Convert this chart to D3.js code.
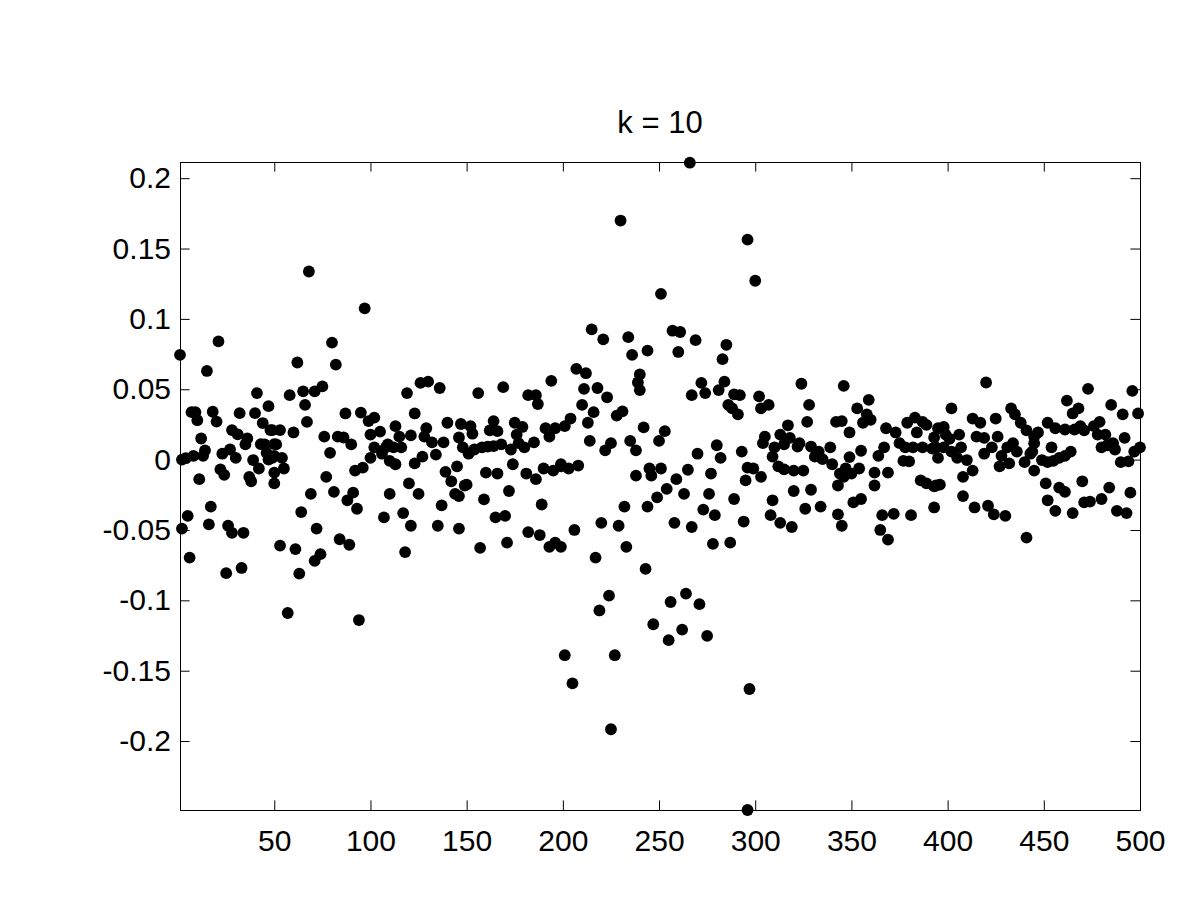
<!DOCTYPE html>
<html>
<head>
<meta charset="utf-8">
<script src="https://cdn.jsdelivr.net/npm/d3@7"></script>
<style>
  html, body { margin: 0; padding: 0; background: #fff; }
  svg { display: block; }
  text { font-family: "Liberation Sans", Arial, Helvetica, sans-serif; fill: #000; }
</style>
</head>
<body>
<svg id="chart" width="1200" height="900"></svg>
<script>
const titleText = "k = 10";
const xTicks = [50, 100, 150, 200, 250, 300, 350, 400, 450, 500];
const yTicks = [-0.2, -0.15, -0.1, -0.05, 0, 0.05, 0.1, 0.15, 0.2];
const yTickLabels = ["-0.2", "-0.15", "-0.1", "-0.05", "0", "0.05", "0.1", "0.15", "0.2"];
const xDomain = [1, 500];
const yDomain = [-0.249, 0.2115];

// index of each visible point
const xIndex = [
  21,1,15,41,47,7,9,10,18,20,32,40,44,48,28,31,36,43,50,12,4,2,14,8,13,23,27,30,35,45,46,49,
  39,42,22,24,37,38,50,11,17,5,2,16,26,28,34,6,25,33,
  68,97,80,62,82,75,71,65,58,66,67,87,95,99,100,49,53,60,51,76,83,86,90,79,47,50,54,55,50,77,92,96,100,
  69,81,91,88,93,64,72,84,89,53,61,74,71,63,57,94,
  126,130,136,119,123,102,105,113,115,121,109,116,129,128,132,138,140,147,146,148,134,127,123,102,106,108,112,110,113,
  120,110,125,139,142,144,146,137,149,117,121,107,135,146,118,
  194,169,156,182,186,187,152,153,164,162,166,175,179,176,177,180,185,191,193,196,151,154,158,161,164,168,173,174,145,
  160,166,181,186,190,195,199,150,172,159,189,165,170,182,188,193,196,157,171,
  230,215,221,234,244,236,207,212,240,239,240,211,218,223,210,216,213,228,231,204,201,242,214,225,222,235,238,199,203,208,
  238,245,246,232,244,220,229,206,199,233,217,243,224,219,247,201,227,205,225,
  266,296,251,257,261,269,260,285,283,272,267,274,284,281,289,292,286,288,291,253,250,280,282,270,293,251,265,259,277,295,
  254,249,263,276,273,279,289,258,267,294,278,287,256,264,271,255,262,275,297,296,
  300,324,346,302,303,307,328,327,342,345,317,313,318,323,305,304,310,315,309,312,315,322,329,333,335,339,331,320,325,296,
  299,303,320,329,340,344,347,309,308,326,334,313,319,343,345,
  359,353,358,356,360,368,373,375,349,379,383,387,389,384,393,395,378,382,387,392,394,367,364,355,349,377,380,395,354,350,
  346,343,362,362,369,386,389,393,394,351,355,366,372,381,393,365,369,
  420,402,433,435,413,417,425,398,426,438,441,445,399,401,406,398,402,405,407,410,413,408,415,419,419,423,428,431,434,436,
  427,432,440,443,396,408,414,421,424,430,441,
  473,496,462,465,468,485,491,499,452,479,469,447,445,444,456,461,466,471,476,478,482,483,486,487,492,480,454,497,500,449,
  452,455,458,461,464,445,451,490,494,458,461,470,484,495,452,456,465,471,474,480,488,493
];
// value of each visible point (same order)
const yValue = [
  0.084,0.0744,0.063,0.0473,0.038,0.0337,0.0337,0.028,0.034,0.027,0.033,0.033,0.026,0.021,0.021,0.018,0.015,0.011,0.011,0.015,0.001,0.0,0.0066,0.0027,0.0027,0.0042,0.0072,0.0012,0.0108,0.0108,0.0048,0.0012,
  -0.0003,-0.0063,-0.0069,-0.0108,-0.0123,-0.0154,-0.0093,-0.0139,-0.0334,-0.04,-0.049,-0.046,-0.047,-0.052,-0.052,-0.0696,-0.0807,-0.077,
  0.1337,0.1075,0.0831,0.069,0.0675,0.052,0.0485,0.0485,0.0458,0.0389,0.0268,0.0328,0.0334,0.0274,0.0178,0.021,0.021,0.0193,0.0108,0.0163,0.0163,0.0157,0.0108,0.0048,0.0,0.0027,0.0012,-0.0063,-0.0169,-0.0123,-0.0078,-0.0057,0.0012,
  -0.0244,-0.0229,-0.0235,-0.0289,-0.0349,-0.0373,-0.049,-0.0566,-0.0605,-0.0611,-0.0636,-0.0672,-0.072,-0.081,-0.109,-0.114,
  0.0545,0.0554,0.0509,0.0473,0.0328,0.0298,0.0199,0.0238,0.0163,0.0172,0.0108,0.0087,0.0223,0.0163,0.0123,0.0123,0.0262,0.0253,0.0157,0.0087,0.0036,0.0021,-0.0027,0.0087,0.0042,0.0087,0.0087,-0.0009,-0.0033,
  -0.0169,-0.0244,-0.0244,-0.0087,-0.0154,-0.0244,-0.0259,-0.0325,-0.0184,-0.038,-0.047,-0.041,-0.047,-0.049,-0.0657,
  0.056,0.0515,0.0473,0.0458,0.0458,0.0395,0.0238,0.0184,0.0274,0.0208,0.0202,0.0262,0.0232,0.0178,0.0117,0.0087,0.0123,0.0223,0.0163,0.0223,0.0042,0.0072,0.0087,0.0093,0.0096,0.0108,0.0072,-0.0033,-0.0048,
  -0.0093,-0.0099,-0.0099,-0.0139,-0.0063,-0.0078,-0.0048,-0.0178,-0.0223,-0.0283,-0.0319,-0.041,-0.04,-0.0515,-0.0536,-0.062,-0.059,-0.0627,-0.059,
  0.1699,0.0925,0.0855,0.087,0.0774,0.0744,0.0645,0.0614,0.0605,0.0548,0.0494,0.0503,0.0509,0.0443,0.0389,0.0337,0.0262,0.0313,0.0343,0.0292,0.0238,0.0229,0.0133,0.0117,0.0066,0.0133,0.0066,-0.0033,-0.0063,-0.0042,
  -0.0114,-0.0063,-0.0114,-0.0334,-0.0334,-0.0449,-0.047,-0.05,-0.062,-0.062,-0.0696,-0.0777,-0.0967,-0.1072,-0.117,-0.139,-0.139,-0.159,-0.1916,
  0.211,0.1563,0.1178,0.0916,0.0907,0.0849,0.0765,0.0816,0.0714,0.0545,0.0458,0.0473,0.0554,0.0494,0.0464,0.0458,0.0389,0.0364,0.0322,0.0202,0.0133,0.0102,0.0012,0.0042,0.0057,-0.0063,-0.0072,-0.0139,-0.0099,-0.0148,
  -0.0208,-0.0268,-0.0244,-0.0244,-0.0355,-0.0395,-0.028,-0.0449,-0.0479,-0.044,-0.0599,-0.059,-0.1012,-0.0952,-0.1027,-0.1283,-0.1208,-0.1253,-0.163,-0.249,
  0.1271,0.0539,0.0524,0.0449,0.0364,0.0389,0.0389,0.0268,0.0268,0.0274,0.0244,0.0178,0.0154,0.0117,0.0163,0.0117,0.0087,0.0108,0.0021,-0.0048,-0.0069,0.0093,0.0093,0.0057,0.0003,0.0087,0.0021,-0.0078,-0.0078,-0.0057,
  -0.0063,-0.0123,-0.0223,-0.0214,-0.0033,-0.0099,-0.0063,-0.0289,-0.0395,-0.0349,-0.0334,-0.0449,-0.0479,-0.0389,-0.047,
  0.0425,0.0364,0.0322,0.0262,0.0283,0.0223,0.0193,0.0117,0.0193,0.0262,0.0298,0.0268,0.0247,0.0193,0.0157,0.0223,0.0087,0.0087,0.0087,0.0078,0.0087,0.0087,0.0027,0.0063,0.0018,-0.0009,-0.0012,0.0012,-0.0063,-0.0099,
  -0.0123,-0.0184,-0.0093,-0.0184,-0.0093,-0.0148,-0.0169,-0.019,-0.0184,-0.0304,-0.028,-0.0395,-0.0386,-0.0395,-0.034,-0.05,-0.0569,
  0.0548,0.0364,0.0364,0.0322,0.0292,0.0262,0.0292,0.0232,0.0163,0.0262,0.0208,0.0163,0.0178,0.0148,0.0178,0.0087,0.0057,0.0012,0.0087,-0.0003,-0.0078,-0.0123,0.0163,0.0154,0.0042,0.0087,0.0027,0.0087,0.0117,0.0057,
  -0.0048,-0.0027,-0.0018,0.0042,-0.0178,-0.0259,-0.034,-0.0328,-0.0389,-0.04,-0.0554,
  0.0503,0.0488,0.0419,0.0328,0.0364,0.0389,0.0322,0.0328,0.0262,0.0268,0.0238,0.0193,0.0117,0.0057,0.0223,0.0214,0.0214,0.0208,0.0238,0.0178,0.0178,0.0102,0.0117,0.0072,0.0154,0.0087,0.0087,0.0057,0.0087,-0.0003,
  -0.0018,-0.0009,0.0012,0.0027,0.0057,-0.0078,-0.0169,-0.0018,-0.0012,-0.0199,-0.0229,-0.0154,-0.0199,-0.0235,-0.0289,-0.0364,-0.038,-0.0304,-0.0298,-0.028,-0.0364,-0.038
];

const points = xIndex.map((xi, i) => ({ x: xi, y: yValue[i] }));

const svg = d3.select("#chart");
const plotLeft = 180, plotRight = 1140, plotTop = 162, plotBottom = 810;
const tickLen = 9.6;
const fontSize = 30;

const x = d3.scaleLinear().domain(xDomain).range([plotLeft, plotRight]);
const y = d3.scaleLinear().domain(yDomain).range([plotBottom, plotTop]);

svg.append("rect").attr("width", 1200).attr("height", 900).attr("fill", "#fff");

// points
svg.append("g")
  .selectAll("circle")
  .data(points)
  .join("circle")
  .attr("cx", d => x(d.x))
  .attr("cy", d => y(d.y))
  .attr("r", 5.9)
  .attr("fill", "#000");

// axes
const fmtY = d => yTickLabels[yTicks.indexOf(d)];

const gB = svg.append("g").attr("transform", `translate(0,${plotBottom})`)
  .call(d3.axisBottom(x).tickValues(xTicks).tickSize(-tickLen).tickPadding(20).tickFormat(d3.format("d")));
const gT = svg.append("g").attr("transform", `translate(0,${plotTop})`)
  .call(d3.axisTop(x).tickValues(xTicks).tickSize(-tickLen).tickFormat(""));
const gL = svg.append("g").attr("transform", `translate(${plotLeft},0)`)
  .call(d3.axisLeft(y).tickValues(yTicks).tickSize(-tickLen).tickPadding(9).tickFormat(fmtY));
const gR = svg.append("g").attr("transform", `translate(${plotRight},0)`)
  .call(d3.axisRight(y).tickValues(yTicks).tickSize(-tickLen).tickFormat(""));

[gB, gT, gL, gR].forEach(g => {
  g.select(".domain").remove();
  g.selectAll(".tick line").attr("stroke", "#000").attr("stroke-width", 1);
  g.selectAll(".tick text")
    .attr("font-family", "'Liberation Sans', Arial, Helvetica, sans-serif")
    .attr("font-size", fontSize).attr("fill", "#000");
});

// axes box
svg.append("rect")
  .attr("x", plotLeft + 0.5).attr("y", plotTop + 0.5)
  .attr("width", plotRight - plotLeft).attr("height", plotBottom - plotTop)
  .attr("fill", "none").attr("stroke", "#000").attr("stroke-width", 1);

// title
svg.append("text")
  .attr("x", (plotLeft + plotRight) / 2).attr("y", 133)
  .attr("text-anchor", "middle")
  .attr("font-size", 31)
  .text(titleText);
</script>
</body>
</html>
